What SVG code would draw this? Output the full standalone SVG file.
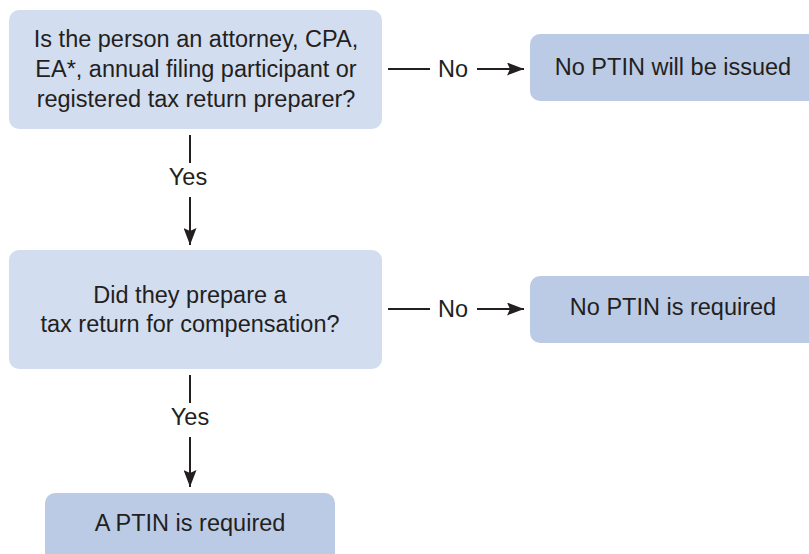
<svg xmlns="http://www.w3.org/2000/svg" width="809" height="554" viewBox="0 0 809 554">
<defs>
<marker id="ah" viewBox="0 0 17 13" refX="17" refY="6.5" markerWidth="17" markerHeight="13" markerUnits="userSpaceOnUse" orient="auto">
<path d="M0,0 L17,6.5 L0,13 L3,6.5 Z" fill="#231f20"/>
</marker>
<style>
.q{fill:#d3ddf0}
.r{fill:#bccbe5}
text{font-family:"Liberation Sans",Arial,sans-serif;font-size:23.5px;fill:#231f20;text-anchor:middle}
.c line{stroke:#231f20;stroke-width:2}
</style>
</defs>
<rect width="809" height="554" fill="#fff"/>
<g id="q1">
<rect class="q" x="9" y="10" width="373" height="119" rx="10"/>
<text x="196" y="47">Is the person an attorney, CPA,</text>
<text x="196" y="77">EA*, annual filing participant or</text>
<text x="196" y="107">registered tax return preparer?</text>
</g>
<g id="r1">
<rect class="r" x="530" y="34" width="300" height="67" rx="10"/>
<text x="673" y="75">No PTIN will be issued</text>
</g>
<g id="q2">
<rect class="q" x="9" y="250" width="373" height="119" rx="10"/>
<text x="190" y="303">Did they prepare a</text>
<text x="190" y="332">tax return for compensation?</text>
</g>
<g id="r2">
<rect class="r" x="530" y="276" width="300" height="67" rx="10"/>
<text x="673" y="315">No PTIN is required</text>
</g>
<g id="r3">
<rect class="r" x="45" y="493" width="290" height="70" rx="10"/>
<text x="190" y="531">A PTIN is required</text>
</g>
<g id="connectors" class="c">
<line x1="388" y1="69" x2="430" y2="69"/>
<line x1="477" y1="69" x2="524" y2="69" marker-end="url(#ah)"/>
<text x="453" y="77">No</text>
<line x1="388" y1="309" x2="430" y2="309"/>
<line x1="477" y1="309" x2="524" y2="309" marker-end="url(#ah)"/>
<text x="453" y="317">No</text>
<line x1="190" y1="135" x2="190" y2="163"/>
<line x1="190" y1="197" x2="190" y2="245" marker-end="url(#ah)"/>
<text x="188" y="185">Yes</text>
<line x1="190" y1="375" x2="190" y2="403"/>
<line x1="190" y1="437" x2="190" y2="487" marker-end="url(#ah)"/>
<text x="190" y="425">Yes</text>
</g>
</svg>
